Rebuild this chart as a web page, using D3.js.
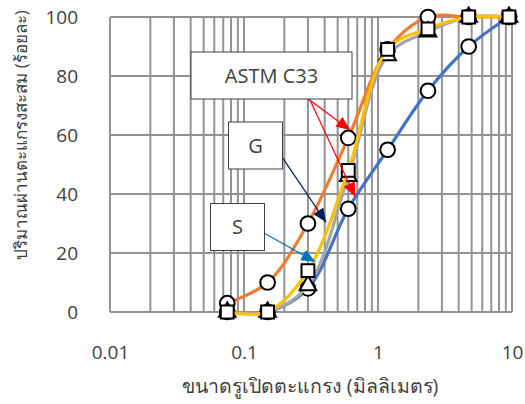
<!DOCTYPE html>
<html>
<head>
<meta charset="utf-8">
<script src="https://cdn.jsdelivr.net/npm/d3@7"></script>
<style>
  html, body { margin: 0; padding: 0; background: #fff; }
  svg { display: block; }
  text { font-family: "Open Sans", "Noto Sans", sans-serif; fill: #404040; }
</style>
</head>
<body>
<svg id="chart" width="525" height="404"></svg>
<script>
// Sieve openings (mm)
const sieveSizes = [0.075, 0.15, 0.3, 0.6, 1.18, 2.36, 4.75, 9.5];
// ASTM C33 grading limits (% passing)
const astmUpper = [3, 10, 30, 59, 89, 100, 100, 100];
const astmLower = [0, 0, 8, 35, 55, 75, 90, 100];
// Sand samples (% passing)
const sampleG = [0, 0, 14, 48, 89, 96, 100, 100];
const sampleS = [0, 0, 9, 46, 87, 95, 100, 100];

const xTickValues = [0.01, 0.1, 1, 10];
const xTickLabels = ["0.01", "0.1", "1", "10"];
const yTickValues = [0, 20, 40, 60, 80, 100];

const xTitle = "ขนาดรูเปิดตะแกรง (มิลลิเมตร)";
const yTitle = "ปริมาณผ่านตะแกรงสะสม (ร้อยละ)";

const svg = d3.select("#chart");
const plot = { left: 110, right: 512, top: 17, bottom: 312 };

const x = d3.scaleLog().domain([0.01, 10]).range([plot.left, plot.right]);
const y = d3.scaleLinear().domain([0, 100]).range([plot.bottom, plot.top]);

const gridColor = "#939393";

// log grid: every 1..9 within each decade
const vLines = [];
[0.01, 0.1, 1].forEach(d => { for (let k = 1; k <= 9; k++) vLines.push(d * k); });
vLines.push(10);

const grid = svg.append("g");
grid.selectAll("line.v").data(vLines).join("line")
  .attr("x1", d => x(d)).attr("x2", d => x(d))
  .attr("y1", plot.top).attr("y2", plot.bottom)
  .attr("stroke", gridColor).attr("stroke-width", 2);
grid.selectAll("line.h").data(yTickValues).join("line")
  .attr("x1", plot.left).attr("x2", plot.right)
  .attr("y1", d => y(d)).attr("y2", d => y(d))
  .attr("stroke", gridColor).attr("stroke-width", 2);

// axes (labels only)
const xAxis = d3.axisBottom(x).tickValues(xTickValues)
  .tickFormat((d, i) => xTickLabels[i]).tickSize(0).tickPadding(0);
svg.append("g").attr("transform", `translate(0,${plot.bottom})`).call(xAxis)
  .call(g => g.select(".domain").remove())
  .call(g => g.selectAll("text").attr("y", 0).attr("dy", "0")
    .attr("transform", "translate(0,47)")
    .style("font-size", "19px").style("fill", "#404040"));

const yAxis = d3.axisLeft(y).tickValues(yTickValues).tickSize(0).tickPadding(0);
svg.append("g").attr("transform", `translate(78,0)`).call(yAxis)
  .call(g => g.select(".domain").remove())
  .call(g => g.selectAll("text").attr("dy", "0.35em")
    .style("font-size", "19px").style("fill", "#404040"));

// axis titles
svg.append("text").attr("x", 310).attr("y", 393).attr("text-anchor", "middle")
  .style("font-size", "19.5px").text(xTitle);
svg.append("text").attr("transform", "translate(27,135) rotate(-90)")
  .attr("text-anchor", "middle").style("font-size", "17px").text(yTitle);

// curves
const series = [
  { values: astmLower, color: "#4472C4", marker: "circle" },
  { values: astmUpper, color: "#ED7D31", marker: "circle" },
  { values: sampleS, color: "#A5A5A5", marker: "triangle" },
  { values: sampleG, color: "#FFC000", marker: "square" }
];

const line = d3.line()
  .x(d => x(d.size)).y(d => y(d.value))
  .curve(d3.curveCatmullRom.alpha(0.5));

series.forEach(s => {
  const pts = sieveSizes.map((size, i) => ({ size, value: s.values[i] }));
  const g = svg.append("g");
  g.append("path").datum(pts).attr("d", line)
    .attr("fill", "none").attr("stroke", s.color).attr("stroke-width", 3.2)
    .attr("stroke-linejoin", "round").attr("stroke-linecap", "round");
  const sym = s.marker === "circle" ? d3.symbolCircle
            : s.marker === "square" ? d3.symbolSquare : d3.symbolTriangle;
  const area = s.marker === "circle" ? 170 : s.marker === "square" ? 165 : 120;
  g.selectAll("path.m").data(pts).join("path")
    .attr("transform", d => `translate(${x(d.size)},${y(d.value)})`)
    .attr("d", d3.symbol(sym, area))
    .attr("fill", "#fff").attr("stroke", "#000").attr("stroke-width", 2);
});

// annotation arrows
const defs = svg.append("defs");
function arrowHead(id, color) {
  defs.append("marker").attr("id", id)
    .attr("viewBox", "0 0 14 12").attr("refX", 14).attr("refY", 6)
    .attr("markerWidth", 14).attr("markerHeight", 12)
    .attr("markerUnits", "userSpaceOnUse").attr("orient", "auto")
    .append("path").attr("d", "M0,0 L14,6 L0,12 Z").attr("fill", color);
}
arrowHead("ahRed", "#FF0000");
arrowHead("ahNavy", "#002060");
arrowHead("ahBlue", "#0070C0");

const callouts = [
  { label: "ASTM C33", box: [191, 52, 161, 47], arrows: [
      { from: [301.7, 94.3], to: [0.62, 61.7], color: "#FF0000", head: "ahRed" },
      { from: [307.3, 94.3], to: [0.676, 39.1], color: "#FF0000", head: "ahRed" } ] },
  { label: "G", box: [228.5, 122, 54, 47], arrows: [
      { from: [282.5, 157.7], to: [0.41, 30.4], color: "#002060", head: "ahNavy" } ] },
  { label: "S", box: [210.5, 203.5, 54, 47], arrows: [
      { from: [264.5, 233.3], to: [0.34, 17], color: "#0070C0", head: "ahBlue" } ] }
];

callouts.forEach(c => {
  c.arrows.forEach(a => {
    svg.append("line")
      .attr("x1", a.from[0]).attr("y1", a.from[1])
      .attr("x2", x(a.to[0])).attr("y2", y(a.to[1]))
      .attr("stroke", a.color).attr("stroke-width", 1.2)
      .attr("marker-end", `url(#${a.head})`);
  });
  const [bx, by, bw, bh] = c.box;
  svg.append("rect").attr("x", bx).attr("y", by).attr("width", bw).attr("height", bh)
    .attr("fill", "#fff").attr("stroke", "#404040").attr("stroke-width", 1);
  svg.append("text").attr("x", bx + bw / 2).attr("y", by + bh / 2)
    .attr("dy", "0.35em").attr("text-anchor", "middle")
    .style("font-size", "20px").style("fill", "#404040").text(c.label);
});
</script>
</body>
</html>
